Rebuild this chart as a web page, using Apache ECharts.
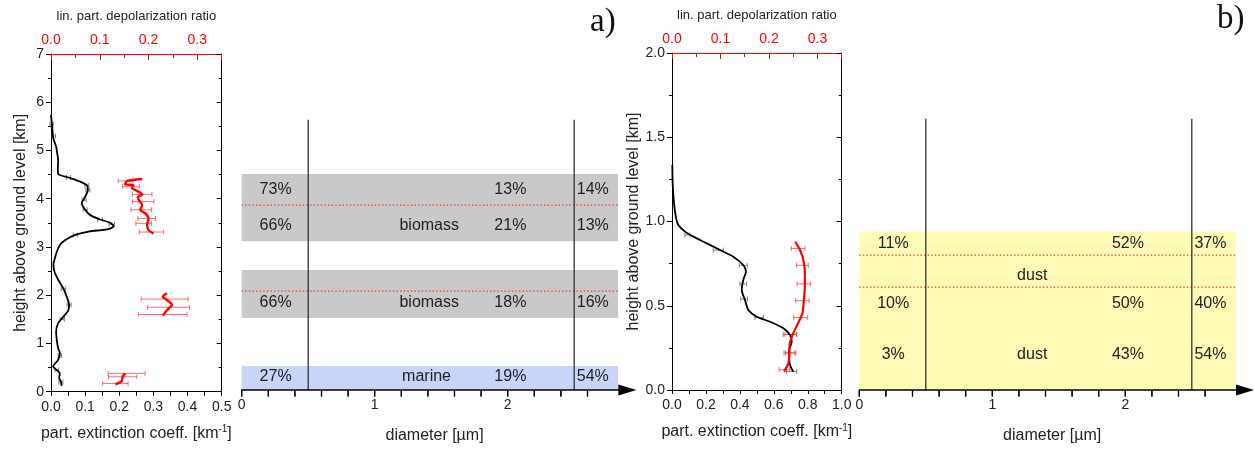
<!DOCTYPE html>
<html><head><meta charset="utf-8">
<script src="https://cdn.jsdelivr.net/npm/echarts@6/dist/echarts.min.js"></script>
<style>html,body{margin:0;padding:0;background:#fff}#c{width:1255px;height:449px}</style>
</head><body><div id="c"></div>
<script>
// ---------------- DATA ----------------
// Panel a) extinction profile [extinction km^-1, height km]
const extA = [[0.000,5.74],[0.002,5.60],[0.004,5.45],[0.007,5.25],[0.015,5.08],[0.018,4.95],[0.021,4.80],[0.020,4.60],[0.021,4.51],[0.051,4.44],[0.080,4.37],[0.105,4.28],[0.108,4.18],[0.100,4.04],[0.090,3.91],[0.100,3.77],[0.115,3.66],[0.144,3.57],[0.174,3.50],[0.183,3.43],[0.169,3.37],[0.110,3.32],[0.071,3.25],[0.041,3.14],[0.026,3.04],[0.017,2.90],[0.010,2.73],[0.007,2.63],[0.010,2.49],[0.021,2.32],[0.036,2.14],[0.046,1.97],[0.053,1.80],[0.051,1.69],[0.036,1.55],[0.021,1.42],[0.015,1.24],[0.017,1.07],[0.021,0.90],[0.026,0.80],[0.021,0.66],[0.006,0.52],[0.017,0.45],[0.026,0.38],[0.024,0.29],[0.029,0.21],[0.031,0.12]];
// error bars: height, centre, half width
const extErrA_h   = [5.55,5.30,4.44,4.28,4.18,3.97,3.77,3.57,3.47,3.25,2.13,1.80,1.50,0.75,0.45,0.20];
const extErrA_c   = [0.002,0.008,0.051,0.105,0.108,0.097,0.100,0.144,0.178,0.071,0.036,0.053,0.033,0.026,0.017,0.029];
const extErrA_d   = [0.005,0.005,0.006,0.006,0.006,0.006,0.006,0.007,0.008,0.006,0.006,0.006,0.006,0.005,0.005,0.006];
// depolarization ratio [ratio, height km], three layers
const depA1 = [[0.187,4.41],[0.156,4.37],[0.152,4.30],[0.169,4.28],[0.166,4.22],[0.173,4.18],[0.187,4.09],[0.178,4.03],[0.180,3.97],[0.187,3.87],[0.183,3.77],[0.193,3.70],[0.200,3.59],[0.197,3.46],[0.200,3.35],[0.210,3.28]];
const depA2 = [[0.238,2.04],[0.229,1.97],[0.238,1.90],[0.248,1.80],[0.238,1.69],[0.229,1.58]];
const depA3 = [[0.152,0.38],[0.147,0.31],[0.145,0.22],[0.132,0.15]];
const depErrA_h = [4.37,4.25,4.09,3.94,3.77,3.59,3.49,3.31,1.92,1.75,1.60,0.38,0.31,0.17];
const depErrA_c = [0.153,0.164,0.187,0.189,0.185,0.196,0.190,0.206,0.233,0.241,0.229,0.155,0.147,0.132];
const depErrA_d = [0.015,0.017,0.020,0.022,0.021,0.018,0.016,0.025,0.048,0.043,0.050,0.038,0.029,0.026];

// Panel b) extinction profile
const extB = [[0.002,1.335],[0.004,1.225],[0.012,1.108],[0.024,1.02],[0.037,0.979],[0.077,0.94],[0.126,0.91],[0.204,0.871],[0.283,0.831],[0.361,0.791],[0.42,0.742],[0.436,0.703],[0.42,0.653],[0.411,0.593],[0.43,0.534],[0.45,0.475],[0.499,0.435],[0.578,0.405],[0.656,0.366],[0.695,0.326],[0.705,0.287],[0.691,0.237],[0.691,0.178],[0.699,0.138],[0.715,0.109]];
const extErrB_h = [0.92,0.83,0.74,0.63,0.54,0.43,0.33,0.22,0.11];
const extErrB_c = [0.091,0.273,0.42,0.42,0.425,0.514,0.695,0.70,0.705];
const extErrB_d = [0.015,0.030,0.024,0.020,0.020,0.025,0.040,0.030,0.030];
const depB = [[0.254,0.88],[0.264,0.831],[0.271,0.772],[0.274,0.692],[0.274,0.613],[0.272,0.534],[0.269,0.455],[0.26,0.396],[0.25,0.336],[0.243,0.277],[0.242,0.218],[0.24,0.158],[0.231,0.109]];
const depErrB_h = [0.84,0.74,0.63,0.53,0.43,0.33,0.22,0.12];
const depErrB_c = [0.260,0.269,0.272,0.269,0.265,0.245,0.242,0.232];
const depErrB_d = [0.014,0.012,0.014,0.014,0.014,0.012,0.011,0.011];

// Size-class diagrams
const diamTicks  = [0,0.2,0.4,0.6,0.8,1.0,1.2,1.4,1.6,1.8,2.0,2.2,2.4,2.6];
const diamLabels = [0,1,2];
const classEdges = [0.5, 2.5];          // µm
const diamRange  = [0, 2.83];
// a)
const layerTypeA   = ['biomass','biomass','marine'];
const layerBottomA = [3.1, 1.5, 0.0];
const layerTopA    = [4.5, 2.5, 0.5];
const dottedA      = [3.85, 2.06];
const edgeTopA     = 5.63;
const rowHA        = [4.18, 3.43, 1.83, 0.27];
const fineA        = ['73%','66%','66%','27%'];
const midA         = ['13%','21%','18%','19%'];
const coarseA      = ['14%','13%','16%','54%'];
const typeLabelA   = ['biomass','biomass','marine'];
const typeLabelHA  = [3.43, 1.83, 0.27];
// b)
const layerTypeB   = ['dust'];
const layerBottomB = [0.0];
const layerTopB    = [0.94];
const dottedB      = [0.80, 0.61];
const edgeTopB     = 1.61;
const rowHB        = [0.867, 0.51, 0.21];
const fineB        = ['11%','10%','3%'];
const midB         = ['52%','50%','43%'];
const coarseB      = ['37%','40%','54%'];
const typeLabelB   = ['dust','dust'];
const typeLabelHB  = [0.677, 0.21];

// ---------------- CHART ----------------
const FONT = '"Liberation Sans", Arial, sans-serif';
const TXT = '#222';
const bandColor = {biomass:'#c9c9c9', marine:'#c9d4f9', dust:'#fffab6'};
const colX = [0.255, 2.02, 2.64];
const typeX = {biomass:1.41, marine:1.39, dust:1.30};

function errData(h, c, d){ return h.map((v,i)=>[c[i]-d[i], c[i]+d[i], v]); }
function errSeries(xi, yi, data, color, op){
  return {type:'custom', xAxisIndex:xi, yAxisIndex:yi, data, encode:{x:[0,1], y:2}, z:2, silent:true,
    renderItem:(p, api)=>{
      const a = api.coord([api.value(0), api.value(2)]);
      const b = api.coord([api.value(1), api.value(2)]);
      const c = 2.5, st = {stroke:color, lineWidth:1, opacity:op};
      return {type:'group', children:[
        {type:'line', shape:{x1:a[0],y1:a[1],x2:b[0],y2:b[1]}, style:st},
        {type:'line', shape:{x1:a[0],y1:a[1]-c,x2:a[0],y2:a[1]+c}, style:st},
        {type:'line', shape:{x1:b[0],y1:b[1]-c,x2:b[0],y2:b[1]+c}, style:st}
      ]};
    }};
}
function lineSeries(xi, yi, data, color, w){
  return {type:'line', xAxisIndex:xi, yAxisIndex:yi, data, showSymbol:false, smooth:0.25, z:3, silent:true,
    lineStyle:{color, width:w}};
}
function bandSeries(xi, yi, bottoms, tops, types){
  return {type:'custom', xAxisIndex:xi, yAxisIndex:yi, z:1, silent:true,
    data: bottoms.map((b,i)=>[diamRange[0], b, tops[i]]),
    encode:{x:0, y:[1,2]},
    renderItem:(p, api)=>{
      const a = api.coord([diamRange[0], api.value(2)]);
      const b = api.coord([diamRange[1], api.value(1)]);
      return {type:'rect', shape:{x:a[0], y:a[1], width:b[0]-a[0], height:b[1]-a[1]},
        style:{fill:bandColor[types[p.dataIndex]]}};
    }};
}
function dottedSeries(xi, yi, hs){
  return {type:'custom', xAxisIndex:xi, yAxisIndex:yi, z:3, silent:true,
    data: hs.map(h=>[diamRange[0], h]),
    renderItem:(p, api)=>{
      const a = api.coord([diamRange[0], api.value(1)]);
      const b = api.coord([diamRange[1], api.value(1)]);
      return {type:'line', shape:{x1:a[0],y1:a[1],x2:b[0],y2:b[1]},
        style:{stroke:'#ff3030', lineWidth:1.3, lineDash:[1.4,2.2]}};
    }};
}
// class-edge lines; the first item also carries the diameter-axis tick marks (placed via the axis scale)
function edgeSeries(xi, yi, top){
  return {type:'custom', xAxisIndex:xi, yAxisIndex:yi, z:4, silent:true,
    data: classEdges.map(d=>[d, top]),
    renderItem:(p, api)=>{
      const a = api.coord([api.value(0), 0]);
      const b = api.coord([api.value(0), api.value(1)]);
      const children = [{type:'line', shape:{x1:a[0],y1:a[1],x2:b[0],y2:b[1]},
        style:{stroke:'#333', lineWidth:1.3}}];
      if (p.dataIndex === 0) {
        diamTicks.forEach(t=>{
          const q = api.coord([t, 0]);
          children.push({type:'rect', shape:{x:q[0]-0.6, y:q[1]+0.5, width:1.2, height:6},
            style:{fill:'#000'}});
        });
      }
      return {type:'group', children};
    }};
}
// separate tick series on its own layer, as a second route to the same marks
function diamTickSeries(xi, yi){
  return {type:'custom', xAxisIndex:xi, yAxisIndex:yi, zlevel:1, z:10, silent:true,
    data: diamTicks.map(v=>[v, 0]),
    renderItem:(p, api)=>{
      const a = api.coord([api.value(0), api.value(1)]);
      return {type:'rect', shape:{x:a[0]-0.6, y:a[1]+0.5, width:1.2, height:6},
        style:{fill:'#000'}};
    }};
}
function textSeries(xi, yi, items){
  return {type:'custom', xAxisIndex:xi, yAxisIndex:yi, z:5, silent:true,
    data: items.map(t=>[t.x, t.h]),
    renderItem:(p, api)=>{
      const a = api.coord([api.value(0), api.value(1)]);
      return {type:'text', x:a[0], y:a[1],
        style:{text:items[p.dataIndex].t, fill:TXT, font:'16px ' + FONT, align:'center', verticalAlign:'middle'}};
    }};
}
function buildTexts(rowH, fine, mid, coarse, tl, tlh){
  const out = [];
  rowH.forEach((h,i)=>{
    out.push({x:colX[0], h, t:fine[i]});
    out.push({x:colX[1], h, t:mid[i]});
    out.push({x:colX[2], h, t:coarse[i]});
  });
  tl.forEach((t,i)=>out.push({x:typeX[t], h:tlh[i], t}));
  return out;
}

const tickLbl = {fontSize:14, color:TXT, fontFamily:FONT};
function extXAxis(gi, max, interval){
  return {gridIndex:gi, type:'value', position:'bottom', min:0, max, interval,
    axisLine:{onZero:false, lineStyle:{color:'#000', width:1}},
    axisTick:{length:4, lineStyle:{color:'#000'}},
    minorTick:{show:true, splitNumber:2, length:4, lineStyle:{color:'#000'}},
    splitLine:{show:false}, minorSplitLine:{show:false},
    axisLabel:Object.assign({formatter:v=>v.toFixed(1), margin:8}, tickLbl),
    name:'part. extinction coeff. [km{sup|-1}]', nameLocation:'middle', nameGap:33,
    nameTextStyle:{fontSize:16, color:TXT, fontFamily:FONT,
      rich:{sup:{fontSize:10, color:TXT, fontFamily:FONT, verticalAlign:'top', padding:[0,0,7,0]}}}};
}
function depXAxis(gi){
  return {gridIndex:gi, type:'value', position:'top', min:0, max:0.35, interval:0.1,
    axisLine:{onZero:false, lineStyle:{color:'#ff0000', width:1}},
    axisTick:{inside:true, length:6, lineStyle:{color:'#ff0000'}},
    minorTick:{show:true, splitNumber:2, length:4, lineStyle:{color:'#ff0000'}},
    splitLine:{show:false}, minorSplitLine:{show:false},
    axisLabel:{formatter:v=>v.toFixed(1), margin:7, fontSize:14, color:'#ff0000', fontFamily:FONT, showMaxLabel:false},
    name:'lin. part. depolarization ratio', nameLocation:'middle', nameGap:31,
    nameTextStyle:{fontSize:13, color:TXT, fontFamily:FONT}};
}
function diamXAxis(gi){
  return {gridIndex:gi, type:'value', position:'bottom', min:0, max:2.9, z:10,
    axisLine:{onZero:false, symbol:['none','triangle'], symbolSize:[11,18], lineStyle:{color:'#000', width:1.6}},
    axisTick:{show:false},
    axisLabel:Object.assign({customValues:diamLabels, margin:8}, tickLbl),
    splitLine:{show:false},
    name:'diameter [µm]', nameLocation:'middle', nameGap:38,
    nameTextStyle:{fontSize:16, color:TXT, fontFamily:FONT}};
}
function hYAxis(gi, max, interval, dec){
  return {gridIndex:gi, type:'value', position:'left', min:0, max, interval,
    axisLine:{onZero:false, lineStyle:{color:'#000', width:1}},
    axisTick:{length:5, lineStyle:{color:'#000'}},
    minorTick:{show:true, splitNumber:2, length:3, lineStyle:{color:'#000'}},
    splitLine:{show:false}, minorSplitLine:{show:false},
    axisLabel:Object.assign({formatter:v=>v.toFixed(dec), margin:7}, tickLbl),
    name:'height above ground level [km]', nameLocation:'middle', nameGap:22,
    nameTextStyle:{fontSize:16, color:TXT, fontFamily:FONT}};
}
function frameYAxis(gi, max, interval){
  return {gridIndex:gi, type:'value', position:'right', min:0, max, interval,
    axisLine:{onZero:false, lineStyle:{color:'#000', width:1}},
    axisTick:{inside:true, length:5, lineStyle:{color:'#000'}},
    minorTick:{show:true, splitNumber:2, length:3, lineStyle:{color:'#000'}},
    splitLine:{show:false}, axisLabel:{show:false}};
}
function hiddenYAxis(gi, max){
  return {gridIndex:gi, type:'value', min:0, max, show:false};
}

const option = {
  animation:false,
  backgroundColor:'#fff',
  textStyle:{fontFamily:FONT},
  grid:[
    {left:51, top:54, width:170.7, height:337.7},
    {left:241.7, top:54, width:385.7, height:337.7},
    {left:672, top:53, width:169.7, height:337},
    {left:859.3, top:53, width:385.7, height:337}
  ],
  xAxis:[extXAxis(0,0.5,0.1), depXAxis(0), diamXAxis(1), extXAxis(2,1.0,0.2), depXAxis(2), diamXAxis(3)],
  yAxis:[hYAxis(0,7,1,0), frameYAxis(0,7,1), hiddenYAxis(1,7), hYAxis(2,2,0.5,1), frameYAxis(2,2,0.5), hiddenYAxis(3,2)],
  graphic:[
    {type:'text', left:590, top:6, style:{text:'a)', font:'33px "Liberation Serif", "Times New Roman", serif', fill:'#111'}},
    {type:'text', left:1217, top:3, style:{text:'b)', font:'33px "Liberation Serif", "Times New Roman", serif', fill:'#111'}}
  ],
  series:[
    // a) profiles
    errSeries(0,0, errData(extErrA_h, extErrA_c, extErrA_d), '#555', 0.7),
    lineSeries(0,0, extA, '#000', 1.8),
    errSeries(1,0, errData(depErrA_h, depErrA_c, depErrA_d), '#ff4040', 0.75),
    lineSeries(1,0, depA1, '#ff0000', 2.4),
    lineSeries(1,0, depA2, '#ff0000', 2.4),
    lineSeries(1,0, depA3, '#ff0000', 2.4),
    // a) size classes
    bandSeries(2,2, layerBottomA, layerTopA, layerTypeA),
    dottedSeries(2,2, dottedA),
    edgeSeries(2,2, edgeTopA),
    diamTickSeries(2,2),
    textSeries(2,2, buildTexts(rowHA, fineA, midA, coarseA, typeLabelA, typeLabelHA)),
    // b) profiles
    errSeries(3,3, errData(extErrB_h, extErrB_c, extErrB_d), '#555', 0.7),
    lineSeries(3,3, extB, '#000', 1.8),
    errSeries(4,3, errData(depErrB_h, depErrB_c, depErrB_d), '#ff4040', 0.8),
    lineSeries(4,3, depB, '#ff0000', 2.2),
    // b) size classes
    bandSeries(5,5, layerBottomB, layerTopB, layerTypeB),
    dottedSeries(5,5, dottedB),
    edgeSeries(5,5, edgeTopB),
    diamTickSeries(5,5),
    textSeries(5,5, buildTexts(rowHB, fineB, midB, coarseB, typeLabelB, typeLabelHB))
  ]
};
const chart = echarts.init(document.getElementById('c'), null, {renderer:'canvas'});
chart.setOption(option);
</script></body></html>
